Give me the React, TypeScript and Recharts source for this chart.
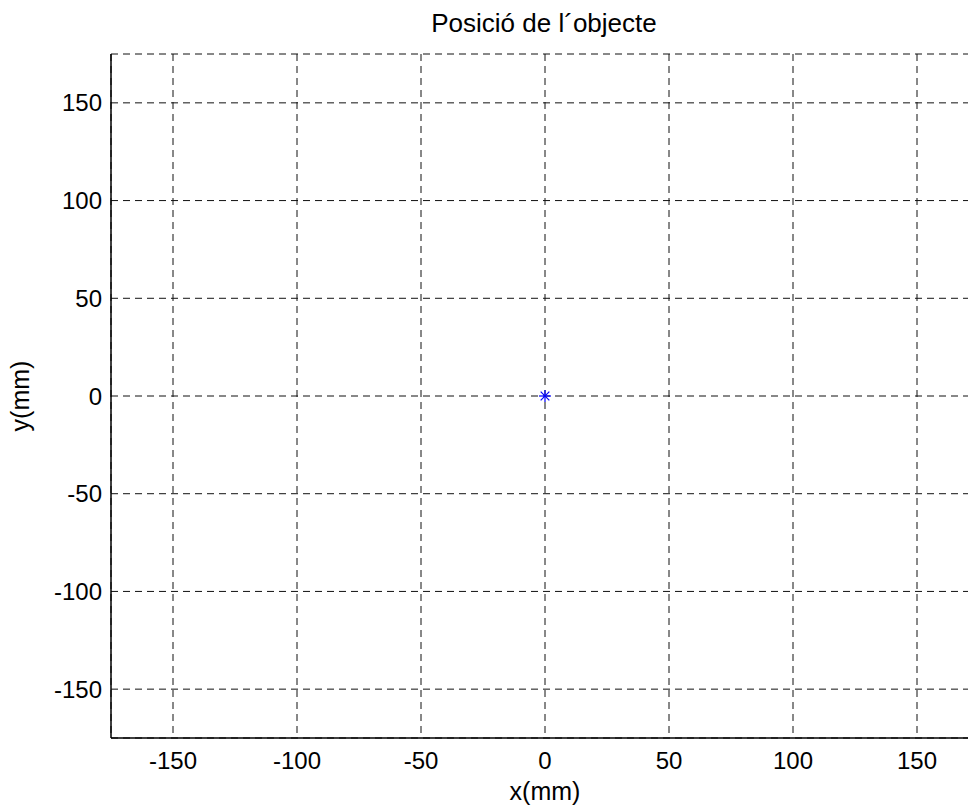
import React from 'react'
import { ScatterChart, Scatter, XAxis, YAxis, CartesianGrid } from 'recharts'

// posició mesurada de l'objecte (mm)
const posX = [0]
const posY = [0]
const xTicks = [-150, -100, -50, 0, 50, 100, 150]
const yTicks = [-150, -100, -50, 0, 50, 100, 150]
const axisDomain: [number, number] = [-175, 175]

const points = posX.map((x, i) => ({ x, y: posY[i] }))

const FONT = '"Liberation Sans", Arial, sans-serif'

function Star(props: { cx?: number; cy?: number }) {
  const { cx = 0, cy = 0 } = props
  const r = 6
  const d = r * 0.72
  return (
    <g stroke="#0000ff" strokeWidth={1.2}>
      <line x1={cx - r} y1={cy} x2={cx + r} y2={cy} />
      <line x1={cx} y1={cy - r} x2={cx} y2={cy + r} />
      <line x1={cx - d} y1={cy - d} x2={cx + d} y2={cy + d} />
      <line x1={cx - d} y1={cy + d} x2={cx + d} y2={cy - d} />
    </g>
  )
}

const tickStyle = { fontSize: 24, fill: '#000', fontFamily: FONT }

export default function App() {
  return (
    <div style={{ position: 'absolute', left: 0, top: 0, width: 968, height: 808, overflow: 'hidden', background: '#fff' }}>
      <div style={{ position: 'absolute', left: 111, top: 10, width: 866, textAlign: 'center', fontFamily: FONT, fontSize: 26, lineHeight: '26px', color: '#000' }}>
        Posició de l´objecte
      </div>
      <ScatterChart width={990} height={808} margin={{ top: 54, right: 11, bottom: 30, left: 51 }}>
        <CartesianGrid stroke="#111" strokeDasharray="7 5" />
        <XAxis dataKey="x" type="number" domain={axisDomain} ticks={xTicks} height={40}
          tick={tickStyle} tickLine={false} tickSize={0} tickMargin={14}
          axisLine={{ stroke: '#000', strokeWidth: 1.5 }}
          label={{ value: 'x(mm)', position: 'bottom', offset: 4, style: { fontSize: 25, fill: '#000', fontFamily: FONT } }} />
        <YAxis dataKey="y" type="number" domain={axisDomain} ticks={yTicks} width={60}
          tick={tickStyle} tickLine={false} tickSize={0} tickMargin={9}
          axisLine={{ stroke: '#000', strokeWidth: 1.5 }}
          label={{ value: 'y(mm)', angle: -90, position: 'insideLeft', offset: -31, style: { fontSize: 25, fill: '#000', fontFamily: FONT, textAnchor: 'middle' } }} />
        {/* eixos auxiliars: vora superior/dreta i marques cap a dins */}
        <XAxis xAxisId="top" orientation="top" mirror type="number" domain={axisDomain} ticks={xTicks} height={0}
          tick={false} tickSize={8} tickLine={{ stroke: '#000' }} axisLine={{ stroke: '#000', strokeWidth: 1.5 }} />
        <XAxis xAxisId="bot" orientation="bottom" mirror type="number" domain={axisDomain} ticks={xTicks} height={0}
          tick={false} tickSize={8} tickLine={{ stroke: '#000' }} axisLine={false} />
        <YAxis yAxisId="left" orientation="left" mirror type="number" domain={axisDomain} ticks={yTicks} width={0}
          tick={false} tickSize={8} tickLine={{ stroke: '#000' }} axisLine={false} />
        <YAxis yAxisId="right" orientation="right" mirror type="number" domain={axisDomain} ticks={yTicks} width={0}
          tick={false} tickSize={8} tickLine={{ stroke: '#000' }} axisLine={{ stroke: '#000', strokeWidth: 1.5 }} />
        <Scatter data={points} shape={<Star />} isAnimationActive={false} />
      </ScatterChart>
    </div>
  )
}
